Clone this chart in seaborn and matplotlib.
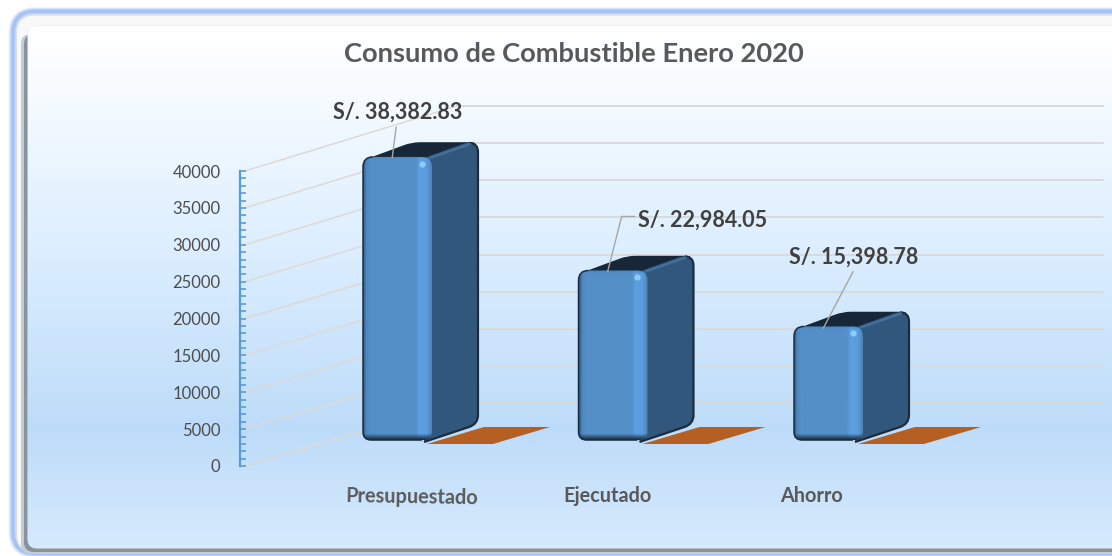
import numpy as np
import pandas as pd
import matplotlib
matplotlib.use('Agg')
import matplotlib.pyplot as plt
from matplotlib.colors import LinearSegmentedColormap, to_rgb
from matplotlib.lines import Line2D
from matplotlib.patches import ConnectionPatch, FancyBboxPatch, PathPatch
from matplotlib.path import Path
from matplotlib.ticker import MultipleLocator
from matplotlib.transforms import IdentityTransform, ScaledTranslation
import seaborn as sns

# values
categories = ['Presupuestado', 'Ejecutado', 'Ahorro']
consumo = [38382.83, 22984.05, 15398.78]
serie_plana = [0, 0, 0]  # the orange flat bars
value_labels = ['S/. 38,382.83', 'S/. 22,984.05', 'S/. 15,398.78']
y_ticks = [0, 5000, 10000, 15000, 20000, 25000, 30000, 35000, 40000]
title = 'Consumo de Combustible Enero 2020'

W, H = 1112, 556

sns.set_theme(style='white')
plt.rcParams['font.family'] = ['Lato', 'DejaVu Sans']


def axes_px(fig, left, top, right, bottom):
    # axes from pixel box, y measured from the top of the image
    return fig.add_axes([left / W, 1 - bottom / H, (right - left) / W, (bottom - top) / H])


def rounded(points, r):
    # closed path through points with rounded corners, points in display pixels
    pts = [np.array(p, dtype=float) for p in points]
    verts, codes = [], []
    n = len(pts)
    for i, p in enumerate(pts):
        prev, nxt = pts[i - 1], pts[(i + 1) % n]
        rad = r[i] if isinstance(r, (list, tuple)) else r
        a = p + (prev - p) / np.linalg.norm(prev - p) * rad
        b = p + (nxt - p) / np.linalg.norm(nxt - p) * rad
        verts += [a, p, b]
        codes += [Path.MOVETO if i == 0 else Path.LINETO, Path.CURVE3, Path.CURVE3]
    verts.append(verts[0])
    codes.append(Path.CLOSEPOLY)
    return Path(verts, codes)


fig = plt.figure(figsize=(W / 100, H / 100), dpi=100, facecolor='white')

#### background and frame, in image pixels
bg = axes_px(fig, 0, 0, W, H)
bg.set_xlim(0, W)
bg.set_ylim(H, 0)
bg.axis('off')
bg.set_zorder(0)

# soft blue glow, then pale band, then grey bevel
for col, lw in [('#EEF3FD', 9), ('#D5E2FA', 7), ('#BBD0F8', 5), ('#A6C3F6', 3)]:
    bg.add_patch(FancyBboxPatch((13, 11.5), 1160, 542, boxstyle='round,pad=0,rounding_size=22',
                                fc='none', ec=col, lw=lw * 0.72, zorder=1))
bg.add_patch(FancyBboxPatch((16.5, 15), 1160, 537, boxstyle='round,pad=0,rounding_size=18',
                            fc='#F8F8F8', ec='#DEDDD6', lw=0.8, zorder=2))
bg.add_patch(FancyBboxPatch((21, 34), 1160, 520, boxstyle='round,pad=0,rounding_size=10',
                            fc='#C3CDD3', ec='none', zorder=3))
bg.add_patch(FancyBboxPatch((24, 34), 1160, 518, boxstyle='round,pad=0,rounding_size=10',
                            fc='#87949C', ec='none', zorder=3.1))
panel = FancyBboxPatch((28, 26), 1160, 522, boxstyle='round,pad=0,rounding_size=9',
                       fc='white', ec='#EDEDED', lw=0.7, zorder=4)
bg.add_patch(panel)
grad_y = [0, 30, 100, 250, 430, 556]
grad_c = ['#FFFFFF', '#FFFFFF', '#F5FBFF', '#DCEEFF', '#BDDCF9', '#D8EBFD']
grad = LinearSegmentedColormap.from_list('bg', [(y / H, c) for y, c in zip(grad_y, grad_c)])
im = bg.imshow(np.linspace(0, 1, 400).reshape(-1, 1), cmap=grad, extent=(0, W, H, 0),
               aspect='auto', zorder=5)
im.set_clip_path(panel)
bg.set_xlim(0, W)
bg.set_ylim(H, 0)

#### back wall with the horizontal grid
wall = axes_px(fig, 457, 106, 1103, 403)
wall.set_ylim(0, 40000)
wall.set_yticks(y_ticks)
wall.set_xticks([])
wall.set_yticklabels([])
wall.patch.set_visible(False)
sns.despine(ax=wall, left=True, bottom=True)
wall.grid(axis='y', color='#D9DADB', lw=1.4)
for gl in wall.get_ygridlines():
    gl.set_clip_on(False)
wall.tick_params(left=False)
wall.set_zorder(1)

#### value axis at the left
ax_y = axes_px(fig, 240, 171, 245, 466)
ax_y.set_ylim(0, 40000)
ax_y.set_yticks(y_ticks)
ax_y.set_yticklabels([str(v) for v in y_ticks])
ax_y.yaxis.set_minor_locator(MultipleLocator(1000))
ax_y.set_xticks([])
ax_y.patch.set_visible(False)
sns.despine(ax=ax_y, right=True, top=True, bottom=True)
ax_y.spines['left'].set_color('#5B9BD5')
ax_y.spines['left'].set_linewidth(1.6)
ax_y.tick_params(axis='y', which='both', direction='in', left=True, length=4, width=1.2,
                 color='#5B9BD5', labelcolor='#4D4D4D', labelsize=12, pad=14)
ax_y.set_zorder(2)

# slanted floor/side wall lines from the axis to the back wall
for v in y_ticks:
    con = ConnectionPatch(xyA=(1, v), coordsA=ax_y.get_yaxis_transform(),
                          xyB=(0, v), coordsB=wall.get_yaxis_transform(),
                          color='#DED9D5', lw=1.1, zorder=1.5)
    fig.add_artist(con)

#### bars
df = pd.DataFrame({'categoria': categories, 'valor': consumo})
ax = axes_px(fig, 289.75, 145, 936.25, 440)
sns.barplot(data=df, x='categoria', y='valor', color='#558FC8', width=0.32, saturation=1, ax=ax)
ax.set_xlim(-0.5, 2.5)
ax.set_ylim(0, 40000)
ax.set_xlabel('')
ax.set_ylabel('')
ax.set_yticks([])
ax.patch.set_visible(False)
sns.despine(ax=ax, left=True, bottom=True)
ax.set_zorder(3)
ax.tick_params(axis='x', length=0, pad=33, labelsize=14.3, labelcolor='#595959')

# category labels do not sit under the bars in the original
label_dx = [10.5, -4, -12]
label_rot = [-1, 0, 0]
for lbl, dx, rot in zip(ax.get_xticklabels(), label_dx, label_rot):
    lbl.set_fontweight('bold')
    lbl.set_rotation(rot)
    lbl.set_transform(lbl.get_transform() + ScaledTranslation(dx / 72, 0, fig.dpi_scale_trans))

DX, DY = 46, 14  # depth of the bars, px
tr = IdentityTransform()
front_cm = LinearSegmentedColormap.from_list('front', [
    (0, '#2F5F8F'), (0.04, '#4F88BE'), (0.1, '#558FC8'), (0.77, '#558FC8'),
    (0.83, '#5CA0E2'), (0.93, '#5A9DDE'), (1, '#4F84B5')])
edge_dark = '#1B2C3F'


def front_image(ny, nx=70):
    # horizontal colour of the face, darker towards the bottom bevel, rim at the top
    rgb = front_cm(np.linspace(0, 1, nx))[:, :3]
    arr = np.repeat(rgb[np.newaxis, :, :], ny, axis=0)
    for k in range(6):
        arr[ny - 1 - k] = arr[ny - 1 - k] * (k / 6) + np.array(to_rgb(edge_dark)) * (1 - k / 6)
    for k in range(3):
        arr[k] = arr[k] * (0.55 + 0.15 * k) + np.array(to_rgb('#3F78AE')) * (0.45 - 0.15 * k)
    return arr


for bar, val, base in zip(list(ax.patches), consumo, serie_plana):
    x0, y0 = ax.transData.transform((bar.get_x(), 0))
    x1, y1 = ax.transData.transform((bar.get_x() + bar.get_width(), val))

    # flat orange bar of the zero series, next to the blue one
    ox0 = x1 - 5
    oy0 = ax.transData.transform((0, base))[1] - 4
    orange = Path([(ox0, oy0), (ox0 + 66, oy0), (ox0 + 123, oy0 + 17), (ox0 + 57, oy0 + 17), (ox0, oy0)],
                  closed=True)
    ax.add_patch(PathPatch(orange, fc='#B65F22', ec='none', transform=tr, clip_on=False, zorder=1))

    # top and side faces, front face last
    top = rounded([(x0 + 3, y1 - 3), (x0 + 3 + DX, y1 + DY), (x1 + DX, y1 + DY), (x1 + 4, y1 - 3)], 8)
    side = rounded([(x1 - 8, y0 + 1), (x1 - 8, y1 - 1), (x1 + DX - 12, y1 + DY), (x1 + DX, y1 + DY),
                    (x1 + DX, y0 + DY + 2), (x1 - 8, y0 - 2)],
                   [2, 2, 2, 9, 9, 2])
    ax.add_patch(PathPatch(top, fc='#182737', ec='#182737', lw=1, transform=tr, clip_on=False, zorder=2))
    ax.add_patch(PathPatch(side, fc='#31587C', ec='none', transform=tr, clip_on=False, zorder=2.1))
    # bevel on the side: dark right and bottom edge, lighter top edge
    rim = Path([(x1 + DX - 9, y1 + DY), (x1 + DX, y1 + DY), (x1 + DX, y1 + DY - 9),
                (x1 + DX, y0 + DY + 11), (x1 + DX, y0 + DY + 2), (x1 + DX - 9, y0 + DY - 1),
                (x1 - 8, y0 - 2)],
               [Path.MOVETO, Path.CURVE3, Path.CURVE3, Path.LINETO, Path.CURVE3, Path.CURVE3, Path.LINETO])
    ax.add_patch(PathPatch(rim, fc='none', ec=edge_dark, lw=1.6, transform=tr, clip_on=False, zorder=2.15))
    ax.add_line(Line2D([x1 - 2, x1 + DX - 8], [y1 - 1, y1 + DY - 1], color='#3F709E', lw=1.8,
                       transform=tr, clip_on=False, zorder=2.15))

    front_path = rounded([(x0, y0), (x0, y1), (x1, y1), (x1, y0)], [8, 10, 10, 9])
    front_patch = PathPatch(front_path, fc='none', ec='none', transform=tr, clip_on=False, zorder=2.2)
    ax.add_patch(front_patch)
    img = ax.imshow(front_image(int(y1 - y0)), aspect='auto', zorder=2.3,
                    extent=(bar.get_x(), bar.get_x() + bar.get_width(), 0, val))
    img.set_clip_path(front_patch)
    bar.set_clip_path(front_patch)
    # dark edge only on the left and along the bottom of the front face
    edge = Path([(x1 - 10, y0), (x0 + 8, y0), (x0, y0), (x0, y0 + 8), (x0, y1 - 10), (x0, y1), (x0 + 10, y1)],
                [Path.MOVETO, Path.LINETO, Path.CURVE3, Path.CURVE3, Path.LINETO, Path.CURVE3, Path.CURVE3])
    ax.add_patch(PathPatch(edge, fc='none', ec=edge_dark, lw=1.1, transform=tr, clip_on=False, zorder=2.4))
    # small highlight at the top right corner
    ax.plot([x1 - 10], [y1 - 7], 'o', ms=4.5, color='#8FCBF7', mec='none', transform=tr, clip_on=False, zorder=2.5)
ax.set_xlim(-0.5, 2.5)
ax.set_ylim(0, 40000)

# value labels with their leader lines, offsets in px from the top of each bar
label_xy = [(4, 45), (29, 50), (29, 69)]
leader = [[(-1, -1), (3, 30)],
          [(-1, -1), (13, 54), (26, 54)],
          [(-1, -2), (29, 55)]]
label_ha = ['center', 'left', 'center']
for i, (val, txt) in enumerate(zip(consumo, value_labels)):
    xc, yt = ax.transData.transform((i - 0.02, val))
    xs = [xc + p[0] for p in leader[i]]
    ys = [yt + p[1] for p in leader[i]]
    ax.add_line(Line2D(xs, ys, color='#A6A6A6', lw=1, transform=tr, clip_on=False, zorder=2.6))
    ax.annotate(txt, xy=(i - 0.02, val), xytext=label_xy[i], textcoords='offset pixels',
                ha=label_ha[i], va='center', fontsize=15.5, fontweight='bold', color='#404040',
                annotation_clip=False, zorder=4)

fig.text(574 / W, 1 - 54 / H, title, ha='center', va='center', fontsize=19.7, fontweight='bold',
         color='#595959', zorder=6)

fig.savefig('out.png', dpi=100)
